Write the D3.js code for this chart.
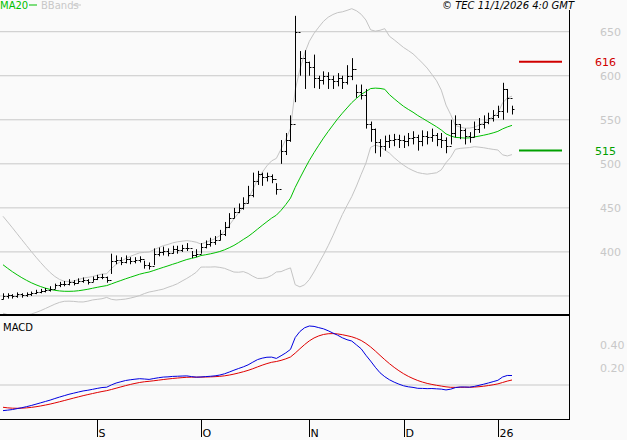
<!DOCTYPE html>
<html><head><meta charset="utf-8">
<script src="https://cdn.jsdelivr.net/npm/d3@7"></script>
<style>body{margin:0;background:#fafafa}svg{display:block}text{font-family:"DejaVu Sans",sans-serif}</style>
</head><body><svg id="c" width="627" height="440"></svg>
<script>
// prehistory closes (used only for indicator warm-up, not drawn)
const preClose=[445,447,446,444,442,440,437,432,427,422,417,412,407,402,397,392,387,382,377,372,367,362,357,352,348,346];
const close=[350,351,350,352,351,352,353,355,356,357,358,362,363,364,366,365,367,368,366,369,371,372,368,390,391,389,392,390,391,392,385,384,398,400,401,399,403,402,404,405,397,398,406,409,411,414,420,428,438,445,450,455,465,480,488,485,486,483,471,515,527,545,650,620,616,610,598,595,600,596,594,597,593,600,608,582,578,545,540,525,520,526,527,528,527,526,529,531,526,532,530,533,528,527,520,535,545,538,532,530,540,545,548,552,556,560,585,575,562];
const high=[353,353,352,354,353,354,355,357,358,359,361,364,366,367,369,368,370,371,369,372,374,375,372,398,396,394,396,394,394,395,390,388,404,405,406,404,407,407,408,410,401,403,410,413,416,418,425,434,444,450,455,462,475,490,492,490,490,488,478,527,535,555,668,628,629,616,624,600,605,604,600,603,600,612,620,590,590,585,548,540,528,532,533,534,533,532,535,537,533,538,537,540,535,535,530,550,555,545,540,536,548,552,555,558,561,566,592,585,566];
const low=[346,347,347,348,348,349,350,352,353,354,355,358,360,361,362,362,364,365,363,366,368,369,365,375,386,385,387,386,387,388,381,380,385,395,396,395,398,398,400,401,393,394,398,404,406,408,413,418,427,438,444,448,455,462,476,475,480,478,465,500,510,525,570,600,585,600,586,585,590,585,585,588,585,590,595,575,573,540,525,512,508,515,518,520,518,518,520,522,515,520,522,525,520,518,512,522,530,528,522,524,530,535,540,545,548,552,550,558,556];
const tickIdx=[20,42,65,85,105];
const tickLab=["S","O","N","D","26"];
const priceTicks=[400,450,500,550,600,650];
const gridTicks=[350,400,450,500,550,600,650];
const macdTicks=[0.2,0.4];
const macdTickLab=["0.20","0.40"];
const levels=[{v:616,c:"#d00000"},{v:515,c:"#00a000"}];

const svg=d3.select("#c");
svg.append("rect").attr("width",627).attr("height",440).attr("fill","#fafafa");
const x=d3.scaleLinear().domain([0,108]).range([3,512]);
const y=d3.scaleLinear().domain([329.5,686]).range([314,0]);
const all=preClose.concat(close), P=preClose.length;
// indicators
const ma=[],up=[],lo=[];
all.forEach((c,i)=>{if(i>=19){const w=all.slice(i-19,i+1);const m=d3.mean(w);const s=Math.sqrt(d3.mean(w,v=>(v-m)*(v-m)));ma[i]=m;up[i]=m+2*s;lo[i]=m-2*s;}});
function ema(a,n){const k=2/(n+1);const o=[];a.forEach((v,i)=>o[i]=i?v*k+o[i-1]*(1-k):v);return o;}
const e12=ema(all,12),e26=ema(all,26);const macd=all.map((v,i)=>e12[i]-e26[i]);const sig=ema(macd,9);
const idx=d3.range(close.length);
const g=svg.append("g");
g.selectAll(".gl").data(gridTicks).join("line").attr("x1",0).attr("x2",569).attr("y1",d=>y(d)).attr("y2",d=>y(d)).attr("stroke","#c8c8c8");
const line=(arr)=>d3.line().x(i=>x(i)).y(i=>y(arr[i+P]));
g.append("path").attr("d",line(up)(idx)).attr("fill","none").attr("stroke","#c4c4c4");
g.append("path").attr("d",line(lo)(idx)).attr("fill","none").attr("stroke","#c4c4c4");
g.append("path").attr("d",line(ma)(idx)).attr("fill","none").attr("stroke","#00c000");
const bars=g.append("g").attr("stroke","#000");
idx.forEach(i=>{const xi=Math.round(x(i))+0.5;const op=i?close[i-1]:preClose[P-1];
bars.append("line").attr("x1",xi).attr("x2",xi).attr("y1",y(high[i])).attr("y2",y(low[i]));
bars.append("line").attr("x1",xi-2).attr("x2",xi).attr("y1",Math.round(y(op))+0.5).attr("y2",Math.round(y(op))+0.5);
bars.append("line").attr("x1",xi).attr("x2",xi+2).attr("y1",Math.round(y(close[i]))+0.5).attr("y2",Math.round(y(close[i]))+0.5);});
// clip overflow
svg.append("rect").attr("x",0).attr("y",314).attr("width",627).attr("height",126).attr("fill","#fafafa");
svg.append("rect").attr("x",570).attr("y",0).attr("width",57).attr("height",440).attr("fill","#fafafa");
levels.forEach(l=>{svg.append("line").attr("x1",519).attr("x2",562).attr("y1",y(l.v)).attr("y2",y(l.v)).attr("stroke",l.c).attr("stroke-width",2);
svg.append("text").attr("x",595).attr("y",y(l.v)+4).attr("fill",l.c).attr("font-size",11).text(l.v);});
svg.selectAll(".pt").data(priceTicks).join("text").attr("x",600).attr("y",d=>y(d)+4).attr("fill","#c8c8c8").attr("font-size",11).text(d=>d);
// MACD panel
const mmax=d3.max(macd.slice(P));
const ym=d3.scaleLinear().domain([0,mmax]).range([385,326]);
svg.append("line").attr("x1",0).attr("x2",569).attr("y1",385).attr("y2",385).attr("stroke","#c8c8c8");
const ml=(arr)=>d3.line().x(i=>x(i)).y(i=>ym(arr[i+P]));
svg.append("path").attr("d",ml(sig)(idx)).attr("fill","none").attr("stroke","#e00000");
svg.append("path").attr("d",ml(macd)(idx)).attr("fill","none").attr("stroke","#0000e0");
svg.append("text").attr("x",3).attr("y",331).attr("font-size",10).text("MACD");
svg.selectAll(".mt").data(macdTicks).join("text").attr("x",600).attr("y",(d,i)=>[372,349][i]).attr("fill","#c8c8c8").attr("font-size",11).text((d,i)=>macdTickLab[i]);
// frames
svg.append("line").attr("x1",0).attr("x2",570).attr("y1",315).attr("y2",315).attr("stroke","#000").attr("stroke-width",2);
svg.append("line").attr("x1",569.5).attr("x2",569.5).attr("y1",10).attr("y2",420).attr("stroke","#000");
svg.append("line").attr("x1",0).attr("x2",570).attr("y1",419.5).attr("y2",419.5).attr("stroke","#000");
tickIdx.forEach((t,i)=>{const xt=Math.round(x(t))+0.5;svg.append("line").attr("x1",xt).attr("x2",xt).attr("y1",420).attr("y2",437).attr("stroke","#000");
svg.append("text").attr("x",xt+1).attr("y",437).attr("font-size",11).text(tickLab[i]);});
// legend
svg.append("text").attr("x",0).attr("y",9).attr("font-size",10).attr("fill","#00c000").text("MA20");
svg.append("line").attr("x1",29).attr("x2",37).attr("y1",5).attr("y2",5).attr("stroke","#00c000");
svg.append("text").attr("x",41).attr("y",9).attr("font-size",10).attr("fill","#c8c8c8").text("BBands");
svg.append("line").attr("x1",73).attr("x2",81).attr("y1",5).attr("y2",5).attr("stroke","#c8c8c8");
svg.append("text").attr("x",574).attr("y",9).attr("text-anchor","end").attr("font-size",10).attr("font-style","italic").text("© TEC 11/1/2026 4:0 GMT");
</script></body></html>
